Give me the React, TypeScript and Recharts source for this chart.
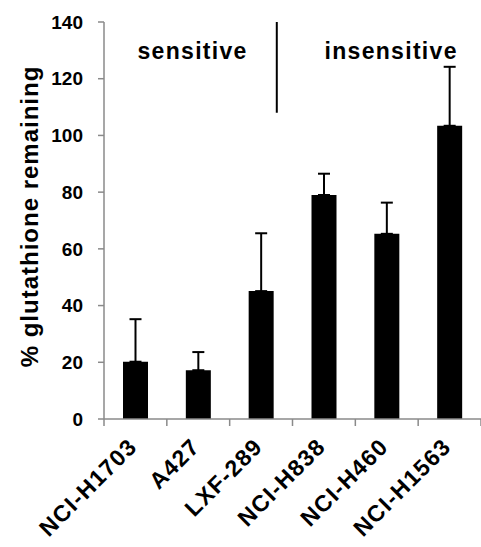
import React from "react";
import {
  ComposedChart,
  Bar,
  ErrorBar,
  XAxis,
  YAxis,
  ReferenceLine,
  ReferenceDot,
} from "recharts";

const categories = ["NCI-H1703", "A427", "LXF-289", "NCI-H838", "NCI-H460", "NCI-H1563"];
const meanValues = [20.2, 17.2, 45.1, 79.0, 65.3, 103.4];
const errValues = [15.0, 6.4, 20.4, 7.5, 11.0, 20.8];
const yTicks = [0, 20, 40, 60, 80, 100, 120, 140];

const groupNames = ["sensitive", "insensitive"];
const groupX = [1.41, 4.57];
const groupY = 127;
const dividerX = 2.75;
const dividerRange = [108, 140];

// category slots on a 0..6 axis: boundaries at integers, names at the half steps
const xTicks = [0, 0.5, 1, 1.5, 2, 2.5, 3, 3.5, 4, 4.5, 5, 5.5, 6];

const data = categories.map((name, i) => ({
  name,
  pos: i + 0.5,
  value: meanValues[i],
  err: [0, errValues[i]],
}));

const FONT = "'Liberation Sans', Arial, sans-serif";
const AXIS_GRAY = "#8a8a8a";

function CategoryTick({ x, y, payload }: any) {
  const v = payload.value;
  if (Number.isInteger(v)) {
    return <line x1={x} y1={y} x2={x} y2={y + 7} stroke={AXIS_GRAY} strokeWidth={1.5} />;
  }
  const tx = x + 3;
  const ty = y + 29;
  return (
    <text
      x={tx}
      y={ty}
      transform={`rotate(-45, ${tx}, ${ty})`}
      textAnchor="end"
      fontFamily={FONT}
      fontWeight="bold"
      fontSize={23}
      letterSpacing={1.3}
      fill="#000"
    >
      {categories[Math.floor(v)]}
    </text>
  );
}

function GroupLabel({ viewBox, value }: any) {
  return (
    <text
      x={viewBox.x}
      y={viewBox.y}
      textAnchor="middle"
      fontFamily={FONT}
      fontWeight="bold"
      fontSize={23}
      letterSpacing={1.3}
      fill="#000"
    >
      {value}
    </text>
  );
}

function YTitle({ viewBox }: any) {
  const cx = viewBox.x + 38;
  const cy = viewBox.y + viewBox.height / 2 - 4;
  return (
    <text
      x={cx}
      y={cy}
      transform={`rotate(-90, ${cx}, ${cy})`}
      textAnchor="middle"
      fontFamily={FONT}
      fontWeight="bold"
      fontSize={24}
      letterSpacing={1}
      fill="#000"
    >
      % glutathione remaining
    </text>
  );
}

export default function App() {
  return (
    <div style={{ position: "absolute", left: 0, top: 0, background: "#fff" }}>
      <ComposedChart
        width={481}
        height={547}
        data={data}
        margin={{ top: 22, right: 0, bottom: 0, left: 0 }}
      >
        <XAxis
          dataKey="pos"
          type="number"
          domain={[0, 6]}
          ticks={xTicks}
          interval={0}
          height={128}
          tickSize={0}
          tickMargin={0}
          tickLine={false}
          axisLine={{ stroke: AXIS_GRAY, strokeWidth: 1.5 }}
          tick={<CategoryTick />}
          allowDataOverflow
        />
        <YAxis
          width={104}
          domain={[0, 140]}
          ticks={yTicks}
          tickSize={6}
          tickMargin={15}
          axisLine={{ stroke: AXIS_GRAY, strokeWidth: 1.5 }}
          tickLine={{ stroke: AXIS_GRAY, strokeWidth: 1.5 }}
          tick={{ fill: "#000", fontSize: 19, fontWeight: "bold", fontFamily: FONT }}
          label={{ content: <YTitle /> }}
        />
        <Bar dataKey="value" fill="#000" barSize={25} isAnimationActive={false}>
          <ErrorBar dataKey="err" direction="y" width={6} stroke="#000" strokeWidth={2} />
        </Bar>
        <ReferenceLine
          segment={[
            { x: dividerX, y: dividerRange[0] },
            { x: dividerX, y: dividerRange[1] },
          ]}
          stroke="#000"
          strokeWidth={2}
          ifOverflow="visible"
        />
        {groupNames.map((g, i) => (
          <ReferenceDot
            key={g}
            x={groupX[i]}
            y={groupY}
            r={0}
            fill="none"
            stroke="none"
            ifOverflow="visible"
            label={{ value: g, content: <GroupLabel /> }}
          />
        ))}
      </ComposedChart>
    </div>
  );
}
